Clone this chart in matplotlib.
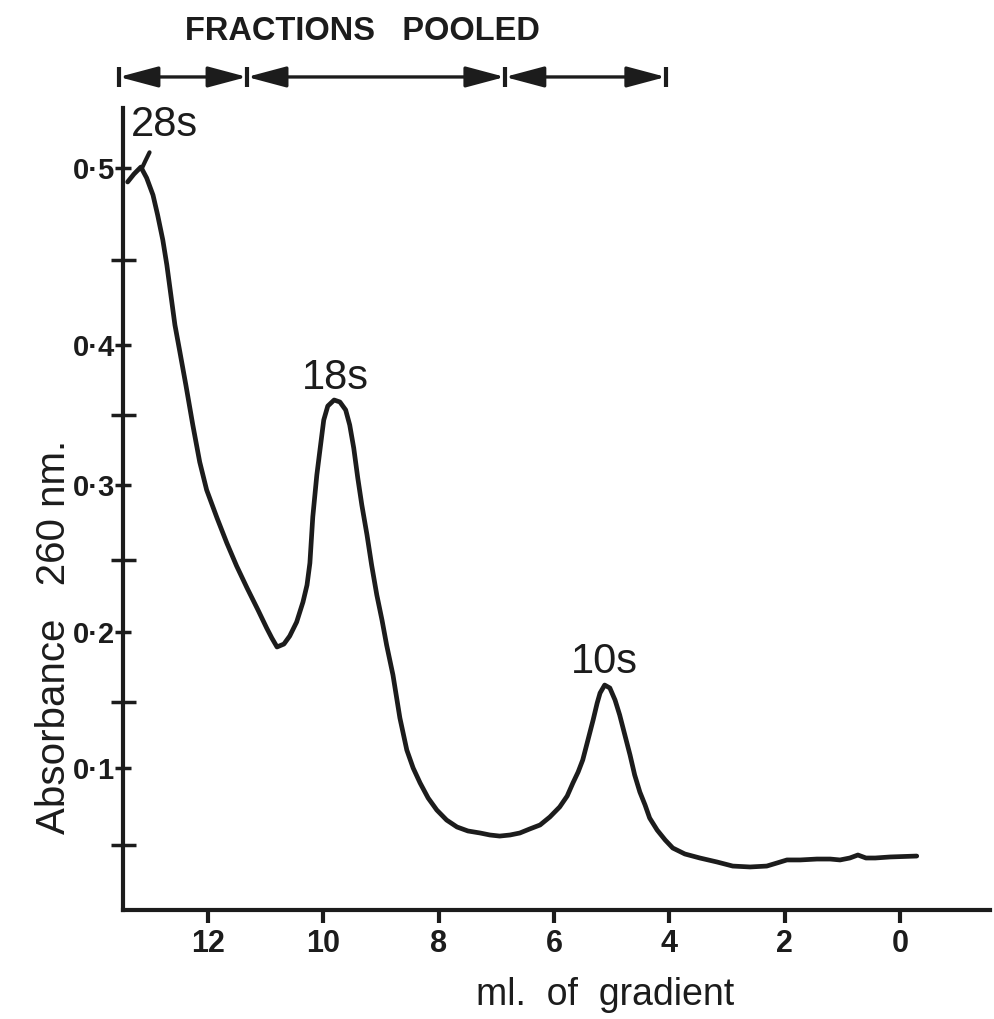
import numpy as np
import matplotlib
matplotlib.use('Agg')
import matplotlib.pyplot as plt

plt.rcParams['font.family'] = ['Liberation Sans', 'DejaVu Sans']
ink = '#1c1c1c'

# sucrose gradient profile, A260 against ml of gradient
ml = [13.39, 13.28, 13.16, 13.06, 12.95, 12.87, 12.78, 12.71, 12.64, 12.57,
      12.49, 12.38, 12.26, 12.14, 12.02, 11.84, 11.67, 11.50, 11.32, 11.13,
      10.98, 10.89, 10.80, 10.68, 10.58, 10.46, 10.35, 10.28, 10.23, 10.18,
      10.11, 10.06, 9.99, 9.92, 9.81, 9.71, 9.61, 9.54, 9.47, 9.40,
      9.33, 9.24, 9.16, 9.07, 8.98, 8.90, 8.79, 8.67, 8.55, 8.44,
      8.32, 8.18, 8.03, 7.86, 7.68, 7.49, 7.28, 7.11, 6.94, 6.76,
      6.59, 6.42, 6.24, 6.07, 5.90, 5.77, 5.67, 5.58, 5.50, 5.41,
      5.32, 5.25, 5.20, 5.12, 5.03, 4.94, 4.86, 4.77, 4.68, 4.60,
      4.51, 4.42, 4.34, 4.21, 4.07, 3.94, 3.73, 3.47, 3.17, 2.90,
      2.60, 2.31, 2.13, 1.96, 1.73, 1.44, 1.21, 1.04, 0.87, 0.73,
      0.59, 0.43, 0.17, -0.29]
absorbance = [0.4924, 0.4967, 0.5005, 0.4946, 0.4853, 0.4745, 0.4609, 0.4471, 0.4294, 0.4118,
              0.3964, 0.3714, 0.3429, 0.3164, 0.2967, 0.2780, 0.2613, 0.2458, 0.2306, 0.2153,
              0.2028, 0.1957, 0.1893, 0.1914, 0.1971, 0.2069, 0.2208, 0.2326, 0.2479, 0.2787,
              0.3071, 0.3236, 0.3464, 0.3564, 0.3607, 0.3593, 0.3536, 0.3429, 0.3264, 0.3050,
              0.2867, 0.2667, 0.2465, 0.2257, 0.2083, 0.1907, 0.1693, 0.1379, 0.1136, 0.1000,
              0.0903, 0.0805, 0.0727, 0.0662, 0.0617, 0.0591, 0.0578, 0.0565, 0.0558, 0.0565,
              0.0578, 0.0604, 0.0630, 0.0682, 0.0747, 0.0818, 0.0903, 0.0974, 0.1061, 0.1212,
              0.1364, 0.1492, 0.1564, 0.1621, 0.1600, 0.1514, 0.1402, 0.1250, 0.1098, 0.0955,
              0.0844, 0.0760, 0.0675, 0.0597, 0.0532, 0.0477, 0.0431, 0.0400, 0.0369, 0.0338,
              0.0331, 0.0338, 0.0362, 0.0385, 0.0385, 0.0392, 0.0392, 0.0385, 0.0400, 0.0423,
              0.0400, 0.0400, 0.0408, 0.0415]

# pen overshoot at the top of the 28s peak
hook_ml = [13.14, 13.08, 13.01]
hook_abs = [0.5000, 0.5040, 0.5085]

peak_names = ['28s', '18s', '10s']
peak_ml = [13.16, 9.81, 5.12]
peak_abs = [0.5005, 0.3607, 0.1621]

pool_bounds = [13.54, 11.32, 6.85, 4.06]

x_ticks = [12, 10, 8, 6, 4, 2, 0]
y_major = [0.1, 0.2, 0.3, 0.4, 0.5]
y_labels = ['0·1', '0·2', '0·3', '0·4', '0·5']
y_minor = [0.05, 0.15, 0.25, 0.35, 0.45]

# the absorbance axis was ruled by hand, spacing is not quite even
ruler_vals = [-0.1, 0.0, 0.05, 0.1, 0.15, 0.2, 0.25, 0.3, 0.35, 0.4, 0.45, 0.5, 0.6]
ruler_len = [-130, 0, 65, 142, 208, 278, 350, 425, 495, 565, 650, 742, 926]


def ruler_fwd(v):
    return np.interp(v, ruler_vals, ruler_len)


def ruler_inv(h):
    return np.interp(h, ruler_len, ruler_vals)


fig = plt.figure(figsize=(9.95, 10.19), dpi=100)
ax = fig.add_axes([123 / 995, 1 - 910 / 1019, 867 / 995, 802 / 1019])

ax.set_yscale('function', functions=(ruler_fwd, ruler_inv))
ax.set_xlim(13.47, -1.56)
ax.set_ylim(0, 0.5326)

ax.plot(ml, absorbance, color=ink, lw=3.4, solid_capstyle='round', solid_joinstyle='round')
ax.plot(hook_ml, hook_abs, color=ink, lw=3.0, solid_capstyle='round', solid_joinstyle='round')

for name, x, y, off in zip(peak_names, peak_ml, peak_abs, [(17, 30), (1, 16), (0, 16.5)]):
    ax.annotate(name, xy=(x, y), xytext=off, textcoords='offset points',
                ha='center', va='center', fontsize=30, color=ink)

for s in ['top', 'right']:
    ax.spines[s].set_visible(False)
for s in ['left', 'bottom']:
    ax.spines[s].set_linewidth(3.0)
    ax.spines[s].set_color(ink)

ax.set_xticks(x_ticks)
ax.set_xticklabels([str(t) for t in x_ticks], fontsize=22, fontweight='bold')
ax.set_yticks(y_major)
ax.set_yticklabels(y_labels, fontsize=21, fontweight='bold')
ax.set_yticks(y_minor, minor=True)
ax.tick_params(axis='x', direction='out', length=9, width=3, color=ink, pad=5, labelcolor=ink)
ax.tick_params(axis='y', which='major', direction='inout', length=11, width=2.5, color=ink, pad=0, labelcolor=ink)
ax.tick_params(axis='y', which='minor', direction='inout', length=18, width=2.5, color=ink)

ax.set_xlabel('ml.  of  gradient', fontsize=27, color=ink, va='center')
ax.xaxis.set_label_coords(0.556, -0.106)
ax.set_ylabel('Absorbance   260 nm.', fontsize=29, color=ink)
ax.yaxis.set_label_coords(-0.058, 0.34)

# fractions pooled, drawn above the plot area
row = 1.0387
trans = ax.get_xaxis_transform()
for a, b in zip(pool_bounds[:-1], pool_bounds[1:]):
    ax.annotate('', xy=(b, row), xytext=(a, row), xycoords=trans, textcoords=trans,
                annotation_clip=False,
                arrowprops=dict(arrowstyle='<|-|>,head_length=1.2,head_width=0.32',
                                mutation_scale=20, lw=2.4, color=ink, shrinkA=0, shrinkB=0))
ax.plot(pool_bounds, [row] * len(pool_bounds), ls='none', marker='|', ms=15, mew=3,
        color=ink, transform=trans, clip_on=False)

fig.text(362 / 995, 1 - 31 / 1019, 'FRACTIONS   POOLED', ha='center', va='center',
         fontsize=23.5, fontweight='bold', color=ink)

fig.savefig('out.png', dpi=100, facecolor='white')
